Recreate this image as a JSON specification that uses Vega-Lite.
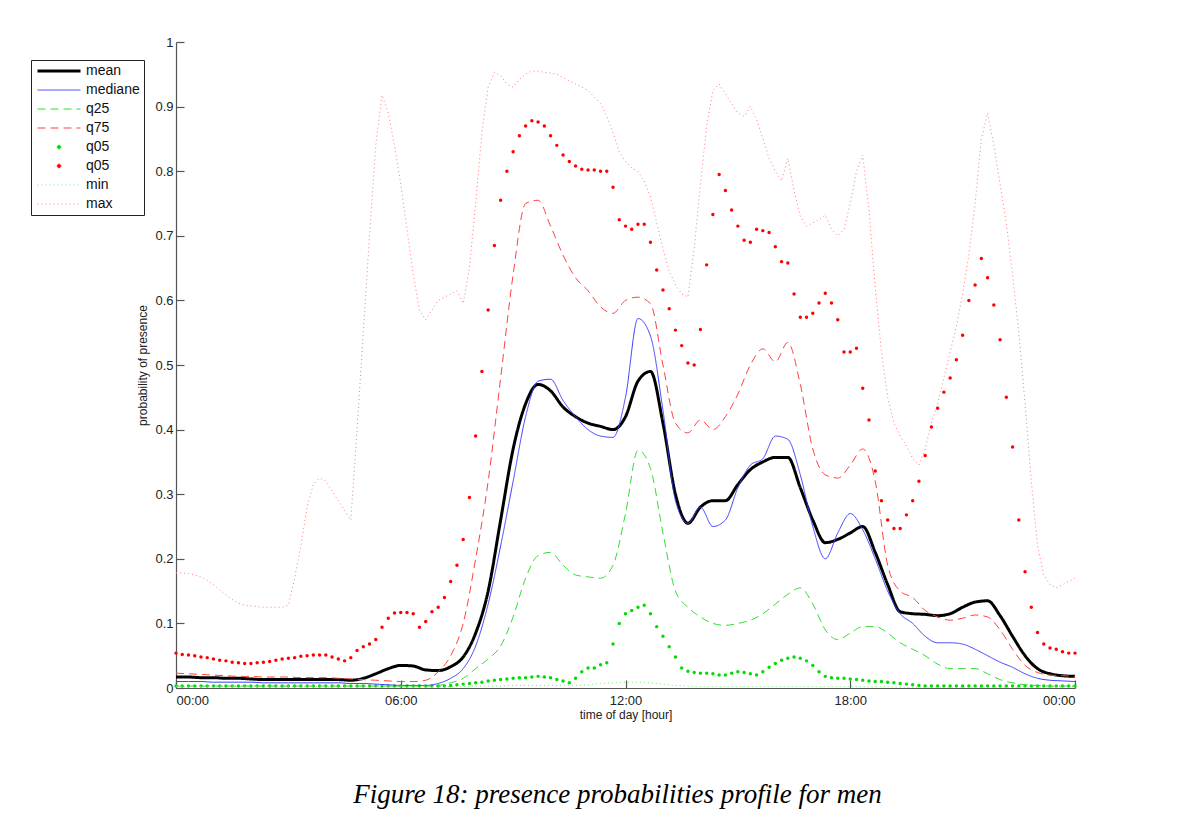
{
  "$schema": "https://vega.github.io/schema/vega-lite/v6.json",
  "width": 899,
  "height": 646,
  "autosize": "none",
  "padding": {"left": 176, "top": 42, "right": 123, "bottom": 145},
  "background": "white",
  "title": {
    "text": "Figure 18: presence probabilities profile for men",
    "orient": "bottom",
    "anchor": "middle",
    "dx": -8,
    "offset": 62,
    "font": "Liberation Serif",
    "fontStyle": "italic",
    "fontWeight": "normal",
    "fontSize": 27,
    "color": "#000000"
  },
  "datasets": {
    "lines": [
      {"m": 0, "mean": 0.017, "median": 0.010, "q25": 0.003, "q75": 0.023, "min": 0.002},
      {"m": 20, "mean": 0.017, "median": 0.010, "q25": 0.003, "q75": 0.022, "min": 0.002},
      {"m": 40, "mean": 0.016, "median": 0.010, "q25": 0.003, "q75": 0.021, "min": 0.002},
      {"m": 60, "mean": 0.016, "median": 0.009, "q25": 0.003, "q75": 0.020, "min": 0.002},
      {"m": 80, "mean": 0.015, "median": 0.009, "q25": 0.003, "q75": 0.019, "min": 0.002},
      {"m": 100, "mean": 0.015, "median": 0.009, "q25": 0.003, "q75": 0.018, "min": 0.002},
      {"m": 120, "mean": 0.014, "median": 0.009, "q25": 0.003, "q75": 0.018, "min": 0.002},
      {"m": 140, "mean": 0.013, "median": 0.008, "q25": 0.003, "q75": 0.017, "min": 0.002},
      {"m": 160, "mean": 0.013, "median": 0.008, "q25": 0.003, "q75": 0.017, "min": 0.002},
      {"m": 180, "mean": 0.013, "median": 0.008, "q25": 0.003, "q75": 0.017, "min": 0.002},
      {"m": 200, "mean": 0.013, "median": 0.008, "q25": 0.003, "q75": 0.016, "min": 0.002},
      {"m": 220, "mean": 0.013, "median": 0.008, "q25": 0.003, "q75": 0.016, "min": 0.002},
      {"m": 240, "mean": 0.013, "median": 0.008, "q25": 0.003, "q75": 0.016, "min": 0.002},
      {"m": 260, "mean": 0.013, "median": 0.008, "q25": 0.003, "q75": 0.015, "min": 0.002},
      {"m": 280, "mean": 0.012, "median": 0.007, "q25": 0.003, "q75": 0.014, "min": 0.002},
      {"m": 300, "mean": 0.015, "median": 0.007, "q25": 0.003, "q75": 0.013, "min": 0.002},
      {"m": 320, "mean": 0.022, "median": 0.006, "q25": 0.003, "q75": 0.012, "min": 0.002},
      {"m": 340, "mean": 0.030, "median": 0.005, "q25": 0.003, "q75": 0.011, "min": 0.002},
      {"m": 360, "mean": 0.035, "median": 0.004, "q25": 0.003, "q75": 0.010, "min": 0.002},
      {"m": 380, "mean": 0.034, "median": 0.004, "q25": 0.003, "q75": 0.010, "min": 0.002},
      {"m": 400, "mean": 0.028, "median": 0.004, "q25": 0.003, "q75": 0.012, "min": 0.002},
      {"m": 420, "mean": 0.027, "median": 0.007, "q25": 0.004, "q75": 0.025, "min": 0.002},
      {"m": 440, "mean": 0.033, "median": 0.015, "q25": 0.008, "q75": 0.050, "min": 0.002},
      {"m": 460, "mean": 0.048, "median": 0.030, "q25": 0.015, "q75": 0.100, "min": 0.002},
      {"m": 480, "mean": 0.085, "median": 0.065, "q25": 0.030, "q75": 0.200, "min": 0.003},
      {"m": 500, "mean": 0.150, "median": 0.130, "q25": 0.045, "q75": 0.320, "min": 0.003},
      {"m": 520, "mean": 0.260, "median": 0.220, "q25": 0.065, "q75": 0.480, "min": 0.003},
      {"m": 540, "mean": 0.370, "median": 0.320, "q25": 0.110, "q75": 0.640, "min": 0.004},
      {"m": 560, "mean": 0.440, "median": 0.420, "q25": 0.170, "q75": 0.750, "min": 0.004},
      {"m": 580, "mean": 0.470, "median": 0.475, "q25": 0.205, "q75": 0.755, "min": 0.004},
      {"m": 600, "mean": 0.460, "median": 0.478, "q25": 0.210, "q75": 0.715, "min": 0.004},
      {"m": 620, "mean": 0.435, "median": 0.445, "q25": 0.190, "q75": 0.670, "min": 0.004},
      {"m": 640, "mean": 0.420, "median": 0.420, "q25": 0.175, "q75": 0.635, "min": 0.004},
      {"m": 660, "mean": 0.410, "median": 0.400, "q25": 0.172, "q75": 0.615, "min": 0.005},
      {"m": 680, "mean": 0.405, "median": 0.390, "q25": 0.170, "q75": 0.590, "min": 0.007},
      {"m": 700, "mean": 0.400, "median": 0.388, "q25": 0.190, "q75": 0.580, "min": 0.008},
      {"m": 720, "mean": 0.420, "median": 0.450, "q25": 0.270, "q75": 0.600, "min": 0.009},
      {"m": 740, "mean": 0.475, "median": 0.572, "q25": 0.368, "q75": 0.605, "min": 0.009},
      {"m": 760, "mean": 0.490, "median": 0.545, "q25": 0.340, "q75": 0.595, "min": 0.008},
      {"m": 780, "mean": 0.410, "median": 0.430, "q25": 0.240, "q75": 0.500, "min": 0.006},
      {"m": 800, "mean": 0.300, "median": 0.290, "q25": 0.150, "q75": 0.410, "min": 0.004},
      {"m": 820, "mean": 0.255, "median": 0.255, "q25": 0.125, "q75": 0.395, "min": 0.003},
      {"m": 840, "mean": 0.280, "median": 0.280, "q25": 0.110, "q75": 0.415, "min": 0.002},
      {"m": 860, "mean": 0.290, "median": 0.250, "q25": 0.100, "q75": 0.400, "min": 0.002},
      {"m": 880, "mean": 0.290, "median": 0.260, "q25": 0.097, "q75": 0.420, "min": 0.002},
      {"m": 900, "mean": 0.315, "median": 0.310, "q25": 0.100, "q75": 0.455, "min": 0.002},
      {"m": 920, "mean": 0.338, "median": 0.345, "q25": 0.105, "q75": 0.500, "min": 0.002},
      {"m": 940, "mean": 0.350, "median": 0.355, "q25": 0.115, "q75": 0.525, "min": 0.002},
      {"m": 960, "mean": 0.357, "median": 0.390, "q25": 0.130, "q75": 0.505, "min": 0.002},
      {"m": 980, "mean": 0.357, "median": 0.385, "q25": 0.145, "q75": 0.535, "min": 0.002},
      {"m": 1000, "mean": 0.310, "median": 0.330, "q25": 0.155, "q75": 0.470, "min": 0.002},
      {"m": 1020, "mean": 0.260, "median": 0.250, "q25": 0.130, "q75": 0.370, "min": 0.002},
      {"m": 1040, "mean": 0.225, "median": 0.200, "q25": 0.090, "q75": 0.330, "min": 0.002},
      {"m": 1060, "mean": 0.230, "median": 0.240, "q25": 0.075, "q75": 0.325, "min": 0.002},
      {"m": 1080, "mean": 0.240, "median": 0.270, "q25": 0.085, "q75": 0.345, "min": 0.002},
      {"m": 1100, "mean": 0.250, "median": 0.245, "q25": 0.095, "q75": 0.370, "min": 0.002},
      {"m": 1120, "mean": 0.210, "median": 0.200, "q25": 0.095, "q75": 0.320, "min": 0.002},
      {"m": 1140, "mean": 0.160, "median": 0.150, "q25": 0.085, "q75": 0.190, "min": 0.002},
      {"m": 1160, "mean": 0.118, "median": 0.115, "q25": 0.070, "q75": 0.150, "min": 0.001},
      {"m": 1180, "mean": 0.115, "median": 0.100, "q25": 0.060, "q75": 0.140, "min": 0.001},
      {"m": 1200, "mean": 0.114, "median": 0.080, "q25": 0.050, "q75": 0.120, "min": 0.001},
      {"m": 1220, "mean": 0.112, "median": 0.070, "q25": 0.037, "q75": 0.110, "min": 0.001},
      {"m": 1240, "mean": 0.115, "median": 0.070, "q25": 0.030, "q75": 0.105, "min": 0.001},
      {"m": 1260, "mean": 0.125, "median": 0.068, "q25": 0.030, "q75": 0.108, "min": 0.001},
      {"m": 1280, "mean": 0.133, "median": 0.060, "q25": 0.030, "q75": 0.113, "min": 0.001},
      {"m": 1300, "mean": 0.135, "median": 0.050, "q25": 0.022, "q75": 0.110, "min": 0.001},
      {"m": 1320, "mean": 0.112, "median": 0.040, "q25": 0.013, "q75": 0.090, "min": 0.001},
      {"m": 1340, "mean": 0.080, "median": 0.032, "q25": 0.008, "q75": 0.060, "min": 0.001},
      {"m": 1360, "mean": 0.050, "median": 0.022, "q25": 0.005, "q75": 0.035, "min": 0.001},
      {"m": 1380, "mean": 0.030, "median": 0.015, "q25": 0.004, "q75": 0.024, "min": 0.001},
      {"m": 1400, "mean": 0.022, "median": 0.012, "q25": 0.003, "q75": 0.020, "min": 0.001},
      {"m": 1420, "mean": 0.019, "median": 0.011, "q25": 0.003, "q75": 0.019, "min": 0.001},
      {"m": 1440, "mean": 0.018, "median": 0.010, "q25": 0.003, "q75": 0.018, "min": 0.001}
    ],
    "pts": [
      {"m": 0, "q95": 0.054, "q05": 0.003, "max": 0.178},
      {"m": 10, "q95": 0.052, "q05": 0.003, "max": 0.178},
      {"m": 20, "q95": 0.051, "q05": 0.003, "max": 0.177},
      {"m": 30, "q95": 0.050, "q05": 0.003, "max": 0.175},
      {"m": 40, "q95": 0.048, "q05": 0.003, "max": 0.172},
      {"m": 50, "q95": 0.047, "q05": 0.003, "max": 0.167},
      {"m": 60, "q95": 0.045, "q05": 0.003, "max": 0.160},
      {"m": 70, "q95": 0.043, "q05": 0.003, "max": 0.152},
      {"m": 80, "q95": 0.042, "q05": 0.003, "max": 0.144},
      {"m": 90, "q95": 0.040, "q05": 0.003, "max": 0.137},
      {"m": 100, "q95": 0.039, "q05": 0.003, "max": 0.131},
      {"m": 110, "q95": 0.038, "q05": 0.003, "max": 0.128},
      {"m": 120, "q95": 0.038, "q05": 0.003, "max": 0.127},
      {"m": 130, "q95": 0.039, "q05": 0.003, "max": 0.126},
      {"m": 140, "q95": 0.040, "q05": 0.003, "max": 0.125},
      {"m": 150, "q95": 0.041, "q05": 0.003, "max": 0.125},
      {"m": 160, "q95": 0.043, "q05": 0.003, "max": 0.125},
      {"m": 170, "q95": 0.045, "q05": 0.003, "max": 0.125},
      {"m": 180, "q95": 0.046, "q05": 0.003, "max": 0.128},
      {"m": 190, "q95": 0.047, "q05": 0.003, "max": 0.170},
      {"m": 200, "q95": 0.049, "q05": 0.003, "max": 0.220},
      {"m": 210, "q95": 0.050, "q05": 0.003, "max": 0.280},
      {"m": 220, "q95": 0.051, "q05": 0.003, "max": 0.315},
      {"m": 230, "q95": 0.051, "q05": 0.003, "max": 0.325},
      {"m": 240, "q95": 0.051, "q05": 0.003, "max": 0.320},
      {"m": 250, "q95": 0.048, "q05": 0.003, "max": 0.305},
      {"m": 260, "q95": 0.045, "q05": 0.003, "max": 0.290},
      {"m": 270, "q95": 0.042, "q05": 0.003, "max": 0.275},
      {"m": 280, "q95": 0.047, "q05": 0.003, "max": 0.260},
      {"m": 290, "q95": 0.058, "q05": 0.003, "max": 0.400},
      {"m": 300, "q95": 0.064, "q05": 0.003, "max": 0.550},
      {"m": 310, "q95": 0.068, "q05": 0.003, "max": 0.700},
      {"m": 320, "q95": 0.075, "q05": 0.003, "max": 0.840},
      {"m": 330, "q95": 0.094, "q05": 0.003, "max": 0.918},
      {"m": 340, "q95": 0.108, "q05": 0.003, "max": 0.890},
      {"m": 350, "q95": 0.116, "q05": 0.003, "max": 0.840},
      {"m": 360, "q95": 0.117, "q05": 0.003, "max": 0.780},
      {"m": 370, "q95": 0.117, "q05": 0.003, "max": 0.710},
      {"m": 380, "q95": 0.115, "q05": 0.003, "max": 0.640},
      {"m": 390, "q95": 0.094, "q05": 0.003, "max": 0.585},
      {"m": 400, "q95": 0.103, "q05": 0.003, "max": 0.570},
      {"m": 410, "q95": 0.118, "q05": 0.003, "max": 0.585},
      {"m": 420, "q95": 0.125, "q05": 0.003, "max": 0.600},
      {"m": 430, "q95": 0.140, "q05": 0.003, "max": 0.605},
      {"m": 440, "q95": 0.165, "q05": 0.004, "max": 0.610},
      {"m": 450, "q95": 0.190, "q05": 0.005, "max": 0.615},
      {"m": 460, "q95": 0.230, "q05": 0.006, "max": 0.595},
      {"m": 470, "q95": 0.295, "q05": 0.007, "max": 0.650},
      {"m": 480, "q95": 0.390, "q05": 0.008, "max": 0.750},
      {"m": 490, "q95": 0.490, "q05": 0.009, "max": 0.860},
      {"m": 500, "q95": 0.585, "q05": 0.011, "max": 0.930},
      {"m": 510, "q95": 0.685, "q05": 0.012, "max": 0.953},
      {"m": 520, "q95": 0.755, "q05": 0.013, "max": 0.948},
      {"m": 530, "q95": 0.800, "q05": 0.014, "max": 0.935},
      {"m": 540, "q95": 0.830, "q05": 0.015, "max": 0.930},
      {"m": 550, "q95": 0.855, "q05": 0.016, "max": 0.942},
      {"m": 560, "q95": 0.870, "q05": 0.016, "max": 0.950},
      {"m": 570, "q95": 0.878, "q05": 0.017, "max": 0.955},
      {"m": 580, "q95": 0.876, "q05": 0.018, "max": 0.955},
      {"m": 590, "q95": 0.870, "q05": 0.017, "max": 0.953},
      {"m": 600, "q95": 0.855, "q05": 0.016, "max": 0.952},
      {"m": 610, "q95": 0.840, "q05": 0.013, "max": 0.950},
      {"m": 620, "q95": 0.825, "q05": 0.011, "max": 0.945},
      {"m": 630, "q95": 0.815, "q05": 0.008, "max": 0.940},
      {"m": 640, "q95": 0.808, "q05": 0.015, "max": 0.935},
      {"m": 650, "q95": 0.803, "q05": 0.025, "max": 0.930},
      {"m": 660, "q95": 0.802, "q05": 0.031, "max": 0.925},
      {"m": 670, "q95": 0.802, "q05": 0.031, "max": 0.915},
      {"m": 680, "q95": 0.800, "q05": 0.036, "max": 0.905},
      {"m": 690, "q95": 0.800, "q05": 0.039, "max": 0.885},
      {"m": 700, "q95": 0.775, "q05": 0.068, "max": 0.860},
      {"m": 710, "q95": 0.725, "q05": 0.100, "max": 0.830},
      {"m": 720, "q95": 0.715, "q05": 0.115, "max": 0.815},
      {"m": 730, "q95": 0.710, "q05": 0.120, "max": 0.805},
      {"m": 740, "q95": 0.718, "q05": 0.125, "max": 0.800},
      {"m": 750, "q95": 0.718, "q05": 0.128, "max": 0.785},
      {"m": 760, "q95": 0.690, "q05": 0.115, "max": 0.760},
      {"m": 770, "q95": 0.647, "q05": 0.095, "max": 0.720},
      {"m": 780, "q95": 0.616, "q05": 0.080, "max": 0.680},
      {"m": 790, "q95": 0.587, "q05": 0.064, "max": 0.645},
      {"m": 800, "q95": 0.554, "q05": 0.048, "max": 0.625},
      {"m": 810, "q95": 0.530, "q05": 0.031, "max": 0.610},
      {"m": 820, "q95": 0.503, "q05": 0.026, "max": 0.605},
      {"m": 830, "q95": 0.500, "q05": 0.024, "max": 0.680},
      {"m": 840, "q95": 0.555, "q05": 0.023, "max": 0.780},
      {"m": 850, "q95": 0.655, "q05": 0.023, "max": 0.870},
      {"m": 860, "q95": 0.733, "q05": 0.022, "max": 0.925},
      {"m": 870, "q95": 0.795, "q05": 0.020, "max": 0.935},
      {"m": 880, "q95": 0.770, "q05": 0.020, "max": 0.920},
      {"m": 890, "q95": 0.740, "q05": 0.023, "max": 0.905},
      {"m": 900, "q95": 0.715, "q05": 0.025, "max": 0.890},
      {"m": 910, "q95": 0.693, "q05": 0.024, "max": 0.885},
      {"m": 920, "q95": 0.690, "q05": 0.022, "max": 0.900},
      {"m": 930, "q95": 0.710, "q05": 0.020, "max": 0.880},
      {"m": 940, "q95": 0.708, "q05": 0.025, "max": 0.850},
      {"m": 950, "q95": 0.705, "q05": 0.032, "max": 0.820},
      {"m": 960, "q95": 0.683, "q05": 0.038, "max": 0.800},
      {"m": 970, "q95": 0.660, "q05": 0.043, "max": 0.785},
      {"m": 980, "q95": 0.658, "q05": 0.046, "max": 0.820},
      {"m": 990, "q95": 0.610, "q05": 0.048, "max": 0.770},
      {"m": 1000, "q95": 0.574, "q05": 0.046, "max": 0.730},
      {"m": 1010, "q95": 0.574, "q05": 0.042, "max": 0.715},
      {"m": 1020, "q95": 0.580, "q05": 0.035, "max": 0.720},
      {"m": 1030, "q95": 0.596, "q05": 0.025, "max": 0.725},
      {"m": 1040, "q95": 0.611, "q05": 0.018, "max": 0.732},
      {"m": 1050, "q95": 0.596, "q05": 0.016, "max": 0.710},
      {"m": 1060, "q95": 0.570, "q05": 0.015, "max": 0.700},
      {"m": 1070, "q95": 0.520, "q05": 0.015, "max": 0.710},
      {"m": 1080, "q95": 0.520, "q05": 0.014, "max": 0.750},
      {"m": 1090, "q95": 0.526, "q05": 0.013, "max": 0.800},
      {"m": 1100, "q95": 0.464, "q05": 0.012, "max": 0.825},
      {"m": 1110, "q95": 0.415, "q05": 0.011, "max": 0.740},
      {"m": 1120, "q95": 0.336, "q05": 0.010, "max": 0.620},
      {"m": 1130, "q95": 0.290, "q05": 0.010, "max": 0.520},
      {"m": 1140, "q95": 0.260, "q05": 0.009, "max": 0.450},
      {"m": 1150, "q95": 0.247, "q05": 0.008, "max": 0.410},
      {"m": 1160, "q95": 0.247, "q05": 0.007, "max": 0.390},
      {"m": 1170, "q95": 0.268, "q05": 0.006, "max": 0.375},
      {"m": 1180, "q95": 0.290, "q05": 0.005, "max": 0.355},
      {"m": 1190, "q95": 0.320, "q05": 0.004, "max": 0.345},
      {"m": 1200, "q95": 0.360, "q05": 0.003, "max": 0.370},
      {"m": 1210, "q95": 0.404, "q05": 0.003, "max": 0.410},
      {"m": 1220, "q95": 0.433, "q05": 0.003, "max": 0.440},
      {"m": 1230, "q95": 0.458, "q05": 0.003, "max": 0.480},
      {"m": 1240, "q95": 0.480, "q05": 0.003, "max": 0.520},
      {"m": 1250, "q95": 0.508, "q05": 0.003, "max": 0.560},
      {"m": 1260, "q95": 0.546, "q05": 0.003, "max": 0.610},
      {"m": 1270, "q95": 0.600, "q05": 0.003, "max": 0.670},
      {"m": 1280, "q95": 0.624, "q05": 0.003, "max": 0.750},
      {"m": 1290, "q95": 0.665, "q05": 0.003, "max": 0.850},
      {"m": 1300, "q95": 0.635, "q05": 0.003, "max": 0.890},
      {"m": 1310, "q95": 0.593, "q05": 0.003, "max": 0.840},
      {"m": 1320, "q95": 0.539, "q05": 0.003, "max": 0.780},
      {"m": 1330, "q95": 0.450, "q05": 0.003, "max": 0.720},
      {"m": 1340, "q95": 0.373, "q05": 0.003, "max": 0.640},
      {"m": 1350, "q95": 0.260, "q05": 0.003, "max": 0.550},
      {"m": 1360, "q95": 0.180, "q05": 0.003, "max": 0.440},
      {"m": 1370, "q95": 0.125, "q05": 0.003, "max": 0.320},
      {"m": 1380, "q95": 0.086, "q05": 0.003, "max": 0.220},
      {"m": 1390, "q95": 0.068, "q05": 0.003, "max": 0.175},
      {"m": 1400, "q95": 0.062, "q05": 0.003, "max": 0.160},
      {"m": 1410, "q95": 0.060, "q05": 0.003, "max": 0.155},
      {"m": 1420, "q95": 0.056, "q05": 0.003, "max": 0.160},
      {"m": 1430, "q95": 0.054, "q05": 0.003, "max": 0.165},
      {"m": 1440, "q95": 0.054, "q05": 0.003, "max": 0.170}
    ]
  },
  "encoding": {
    "x": {
      "field": "m",
      "type": "quantitative",
      "scale": {"domain": [0, 1440], "nice": false, "zero": false},
      "axis": {
        "title": "time of day [hour]",
        "values": [0, 360, 720, 1080, 1440],
        "labelExpr": "datum.value == 1440 ? '00:00' : (datum.value < 600 ? '0' : '') + (datum.value / 60) + ':00'",
        "tickSize": -8,
        "labelPadding": 14,
        "titlePadding": 2
      }
    },
    "y": {
      "field": "value",
      "type": "quantitative",
      "scale": {"domain": [0, 1], "nice": false},
      "axis": {
        "title": "probability of presence",
        "values": [0, 0.1, 0.2, 0.3, 0.4, 0.5, 0.6, 0.7, 0.8, 0.9, 1],
        "format": "~g",
        "tickSize": -8,
        "labelPadding": 11,
        "titlePadding": 5
      }
    },
    "color": {
      "field": "series",
      "type": "nominal",
      "scale": {
        "domain": ["mean", "median", "q25", "q75", "q05", "q95", "min", "max"],
        "range": ["#000000", "#3c3cff", "#33dd33", "#ff4040", "#00dd00", "#ff0000", "#77e877", "#ff7a7a"]
      },
      "legend": {
        "orient": "none",
        "legendX": -145,
        "legendY": 18,
        "title": null,
        "labelExpr": "datum.label === 'q95' ? 'q05' : (datum.label === 'median' ? 'mediane' : datum.label)",
        "encode": {
          "symbols": {
            "update": {
              "shape": {"signal": "indexof(['q05','q95'], datum.value) >= 0 ? 'circle' : 'stroke'"},
              "size": {"signal": "indexof(['q05','q95'], datum.value) >= 0 ? 12 : 1849"},
              "fill": {"signal": "indexof(['q05','q95'], datum.value) >= 0 ? scale('color', datum.value) : 'transparent'"},
              "stroke": {"signal": "indexof(['q05','q95'], datum.value) >= 0 ? 'transparent' : scale('color', datum.value)"},
              "strokeWidth": {"signal": "datum.value === 'mean' ? 3 : 1"},
              "strokeDash": {"signal": "indexof(['q25','q75'], datum.value) >= 0 ? [8,5] : (indexof(['min','max'], datum.value) >= 0 ? [1,3] : [1,0])"},
              "opacity": {"value": 1}
            }
          }
        }
      }
    }
  },
  "layer": [
    {
      "data": {"name": "pts"},
      "transform": [{"fold": ["max"], "as": ["series", "value"]}],
      "mark": {"type": "line", "strokeWidth": 1},
      "encoding": {
        "strokeDash": {
          "field": "series", "type": "nominal", "legend": null,
          "scale": {"domain": ["mean", "median", "q25", "q75", "min", "max"], "range": [[1, 0], [1, 0], [8, 5], [8, 5], [1, 3], [1, 3]]}
        }
      }
    },
    {
      "data": {"name": "pts"},
      "transform": [{"fold": ["q05", "q95"], "as": ["series", "value"]}],
      "mark": {"type": "point", "filled": true, "size": 12, "opacity": 1, "shape": "circle"}
    },
    {
      "data": {"name": "lines"},
      "transform": [{"fold": ["mean", "median", "q25", "q75", "min"], "as": ["series", "value"]}],
      "mark": {"type": "line", "interpolate": "monotone"},
      "encoding": {
        "strokeDash": {
          "field": "series", "type": "nominal", "legend": null,
          "scale": {"domain": ["mean", "median", "q25", "q75", "min", "max"], "range": [[1, 0], [1, 0], [8, 5], [8, 5], [1, 3], [1, 3]]}
        },
        "strokeWidth": {"condition": {"test": "datum.series === 'mean'", "value": 3}, "value": 1}
      }
    }
  ],
  "config": {
    "view": {"stroke": null},
    "font": "Liberation Sans",
    "axis": {
      "grid": false,
      "domainColor": "#555555",
      "domainWidth": 1.2,
      "tickColor": "#555555",
      "tickWidth": 1.2,
      "labelFont": "Liberation Sans",
      "labelFontSize": 13,
      "labelColor": "#222222",
      "titleFont": "Liberation Sans",
      "titleFontSize": 12,
      "titleFontWeight": "normal",
      "titleColor": "#222222"
    },
    "legend": {
      "symbolType": "stroke",
      "symbolSize": 1849,
      "rowPadding": 5,
      "strokeColor": "#222222",
      "fillColor": "#ffffff",
      "padding": 4,
      "symbolOffset": 17,
      "labelOffset": 20,
      "labelFont": "Liberation Sans",
      "labelFontSize": 14,
      "labelColor": "#111111",
      "labelLimit": 200
    }
  }
}
